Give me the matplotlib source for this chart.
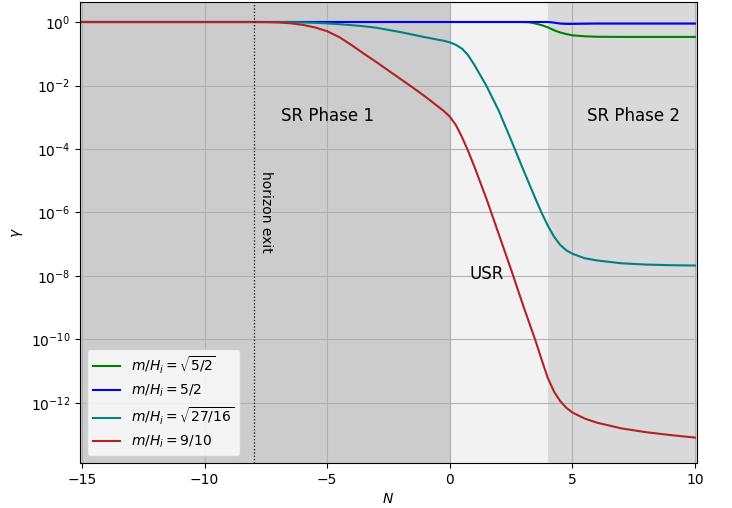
import numpy as np
import matplotlib
matplotlib.use('Agg')
import matplotlib.pyplot as plt

# log10(gamma) values, per curve
N_red = [-15, -8, -7.5, -7, -6.5, -6, -5.5, -5, -4.5, -4, -3.5, -3, -2.5, -2, -1.5, -1, -0.5,
         -0.25, 0, 0.25, 0.5, 0.75, 1, 1.5, 2, 2.5, 3, 3.5, 3.75, 4, 4.25, 4.5, 4.75, 5, 5.5,
         6, 7, 8, 9, 10]
lg_red = [0, 0, -0.003, -0.012, -0.04, -0.09, -0.17, -0.29, -0.48, -0.73, -1.0, -1.26, -1.53,
          -1.8, -2.07, -2.35, -2.65, -2.8, -2.98, -3.25, -3.63, -4.07, -4.55, -5.58, -6.69,
          -7.8, -8.95, -10.05, -10.65, -11.22, -11.64, -11.94, -12.15, -12.3, -12.49, -12.62,
          -12.8, -12.92, -13.01, -13.09]

N_teal = [-15, -8, -7, -6.5, -6, -5.5, -5, -4.5, -4, -3.5, -3, -2.5, -2, -1.5, -1, -0.5, -0.25,
          0, 0.25, 0.5, 0.75, 1, 1.5, 2, 2.5, 3, 3.5, 3.75, 4, 4.25, 4.5, 4.75, 5, 5.5, 6, 7,
          8, 9, 10]
lg_teal = [0, 0, 0, -0.004, -0.012, -0.025, -0.045, -0.07, -0.1, -0.135, -0.18, -0.25, -0.32,
           -0.4, -0.48, -0.555, -0.59, -0.64, -0.72, -0.84, -1.05, -1.35, -2.02, -2.8, -3.72,
           -4.66, -5.58, -6.02, -6.42, -6.76, -7.02, -7.19, -7.3, -7.44, -7.51, -7.6, -7.64,
           -7.66, -7.67]

N_green = [-15, 0, 3, 3.25, 3.5, 3.75, 4, 4.25, 4.5, 4.75, 5, 5.5, 6, 7, 10]
lg_green = [0, 0, 0, -0.01, -0.05, -0.1, -0.17, -0.26, -0.33, -0.38, -0.42, -0.45, -0.465, -0.47, -0.47]

N_blue = [-15, 0, 4, 4.25, 4.5, 4.75, 5, 5.5, 6, 10]
lg_blue = [0, 0, 0, -0.02, -0.05, -0.06, -0.06, -0.055, -0.05, -0.05]

labels = [r'$m/H_i=\sqrt{5/2}$', r'$m/H_i=5/2$', r'$m/H_i=\sqrt{27/16}$', r'$m/H_i=9/10$']

fig = plt.figure(figsize=(7.32, 5.08), dpi=100)
ax = fig.add_axes([80/732, 45/508, 617/732, 461/508])

ax.axvspan(-16, 0, color='#cccccc', zorder=0, lw=0)
ax.axvspan(0, 4, color='#f2f2f2', zorder=0, lw=0)
ax.axvspan(4, 11, color='#d9d9d9', zorder=0, lw=0)

ax.plot(N_green, 10**np.array(lg_green), color='green', lw=1.5, label=labels[0])
ax.plot(N_blue, 10**np.array(lg_blue), color='blue', lw=1.5, label=labels[1])
ax.plot(N_teal, 10**np.array(lg_teal), color='teal', lw=1.5, label=labels[2])
ax.plot(N_red, 10**np.array(lg_red), color='firebrick', lw=1.5, label=labels[3])

ax.axvline(-8, color='black', ls=':', lw=0.9)
ax.text(-7.5, 10**-5.98, 'horizon exit', rotation=-90, ha='center', va='center', fontsize=10)
ax.text(-5.0, 10**-2.97, 'SR Phase 1', ha='center', va='center', fontsize=12)
ax.text(7.5, 10**-2.97, 'SR Phase 2', ha='center', va='center', fontsize=12)
ax.text(1.5, 10**-7.95, 'USR', ha='center', va='center', fontsize=12)

ax.set_yscale('log')
ax.set_xlim(-15.08, 10.08)
ax.set_ylim(10**-13.89, 10**0.63)
ax.set_yticks([10.0**k for k in range(-12, 1, 2)])
ax.set_xticks([-15, -10, -5, 0, 5, 10])
ax.minorticks_off()
ax.grid(True, color='#b0b0b0', lw=0.8)
ax.set_xlabel('$N$')
ax.set_ylabel(r'$\gamma$')
ax.legend(loc='lower left')

fig.savefig('out.png', dpi=100)
